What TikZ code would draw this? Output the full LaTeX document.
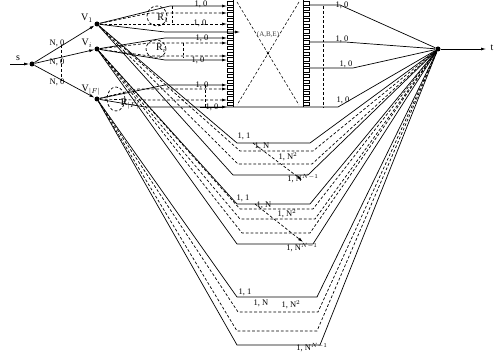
\documentclass[tikz,border=0pt]{standalone}
\usepackage{fontspec}
\setmainfont{Liberation Serif}
\usetikzlibrary{arrows.meta}
\begin{document}
\begin{tikzpicture}[x=1pt,y=-1pt,line width=0.7pt,
  dot/.style={circle,fill=black,inner sep=0pt,minimum size=5pt},
  lb/.style={font=\fontsize{8.5}{9}\selectfont,inner sep=0pt},
  vl/.style={font=\fontsize{10}{11}\selectfont,inner sep=0pt},
  ar/.style={-{Latex[length=5pt,width=3pt]}},
  ds/.style={dash pattern=on 2.8pt off 2pt},
  port/.style={line width=0.55pt}
]
\useasboundingbox (0,0) rectangle (496,355);
% main nodes
\node[dot] (n0) at (32,64) {};
\node[dot] (V1) at (97,24) {};
\node[dot] (Vi) at (97,49) {};
\node[dot] (VF) at (97,99) {};
\node[dot] (t) at (438,49) {};
\coordinate (sin) at (10,64);
\coordinate (tout) at (486,49);
\node[vl] (ls) at (18,58) {s};
\node[vl] (lt) at (492,48) {t};
\node[vl] (lV1) at (87,18) {V$_1$};
\node[vl] (lVi) at (87,43) {V$_i$};
\node[vl] (lVF) at (91,90) {V$_{|F|}$};
\draw[ar] (sin) -- (n0);
\draw[ar] (t) -- (tout);
\draw[ar] (n0) -- (V1);
\draw[ar] (n0) -- (Vi);
\draw[ar] (n0) -- (VF);
\node[lb] at (57,43) {N, 0};
\node[lb] at (57,62) {N, 0};
\node[lb] at (57,82) {N, 0};
\draw[ds] (61,45) -- (61,82);
% box
\draw (233,0) -- (233,107);
\draw (303,0) -- (303,107);
\draw[ds,line width=0.55pt] (237,2) -- (299,105);
\draw[ds,line width=0.55pt] (299,2) -- (237,105);
\fill (268,53.5) circle (1.1pt);
\node[font=\fontsize{7}{8}\selectfont,inner sep=0pt,text=black!75] at (268,35) {(A,B,E)};
\foreach \k in {0,...,18}{
  \draw[port] (233,1.5+\k*5.6) rectangle ++(-6,3.4);
  \draw[port] (303,1.5+\k*5.6) rectangle ++(6,3.4);
}
% V1 group to ports
\draw[ar] (V1) -- (170,6) -- (227,6);
\draw[ar,ds] (V1) -- (150,13) -- (227,13);
\draw[ar,ds] (V1) -- (150,24) -- (227,24);
\draw[ar] (V1) -- (165,32) -- (240,32);
\draw[ds] (172,6) -- (172,24);
\draw[ds] (157,16) ellipse (10pt and 10pt);
\node[vl] at (163,18) {R$_1$};
\node[lb] at (201,4) {1, 0};
\node[lb] at (200,23) {1, 0};
% Vi group to ports
\draw[ar] (Vi) -- (165,38) -- (227,38);
\draw[ar,ds] (Vi) -- (150,43) -- (227,43);
\draw[ar,ds] (Vi) -- (150,56) -- (227,56);
\draw[ar] (Vi) -- (165,60) -- (227,60);
\draw[ds] (183,43) -- (183,58);
\draw[ds] (156,49) ellipse (10pt and 9pt);
\node[vl] at (161,48) {R$_i$};
\node[lb] at (202,38) {1, 0};
\node[lb] at (198,60) {1, 0};
% VF group to ports
\draw[ar] (VF) -- (165,85) -- (227,85);
\draw[ar,ds] (VF) -- (138,89) -- (227,89);
\draw[ar,ds] (VF) -- (135,100) -- (227,100);
\draw (VF) -- (145,107) -- (338,107) -- (t);
\draw[ar] (200,107) -- (227,107);
\draw[ds] (205,85) -- (205,107);
\draw[ds] (116,99) ellipse (9pt and 12pt);
\node[vl] at (130,104) {R$_{|F|}$};
\node[lb] at (202,85) {1, 0};
\node[lb] at (212,107) {1, 0};
% right side
\draw (309,5) -- (340,5) -- (t);
\draw (309,42) -- (345,42) -- (t);
\draw (309,68) -- (353,68) -- (t);
\draw[ds] (323,6) -- (323,107);
\node[lb] at (342,5) {1, 0};
\node[lb] at (342,39) {1, 0};
\node[lb] at (346,64) {1, 0};
\node[lb] at (343,100) {1, 0};
% group 1 from V1
\draw (V1) -- (237,143) -- (310,143) -- (t);
\draw[ds] (V1) -- (240,151) -- (313,151) -- (t);
\draw[ds] (V1) -- (238,164) -- (312,164) -- (t);
\draw (V1) -- (233,175) -- (308,175) -- (t);
\node[lb] at (244,136) {1, 1};
\node[lb] at (262,146) {1, N};
\node[lb] at (288,157) {1, N$^2$};
\node[lb] at (303,179) {1, N$^{N-1}$};
\draw[ar,ds] (253,143) -- (302,180);
% group 2 from Vi
\draw (Vi) -- (237,204) -- (310,204) -- (t);
\draw[ds] (Vi) -- (240,209) -- (313,209) -- (t);
\draw[ds] (Vi) -- (240,219) -- (315,219) -- (t);
\draw[ds] (Vi) -- (242,233) -- (310,233) -- (t);
\draw (Vi) -- (237,244) -- (313,244) -- (t);
\node[lb] at (243,198) {1, 1};
\node[lb] at (264,205) {1, N};
\node[lb] at (287,214) {1, N$^2$};
\node[lb] at (302,248) {1, N$^{N-1}$};
\draw[ar,ds] (255,204) -- (303,242);
% group 3 from VF
\draw (VF) -- (237,297) -- (317,297) -- (t);
\draw[ds] (VF) -- (238,312) -- (318,312) -- (t);
\draw[ds] (VF) -- (237,331) -- (317,331) -- (t);
\draw (VF) -- (237,345) -- (320,345) -- (t);
\node[lb] at (245,292) {1, 1};
\node[lb] at (261,303) {1, N};
\node[lb] at (291,305) {1, N$^2$};
\node[lb] at (312,348) {1, N$^{N-1}$};
\end{tikzpicture}
\end{document}
